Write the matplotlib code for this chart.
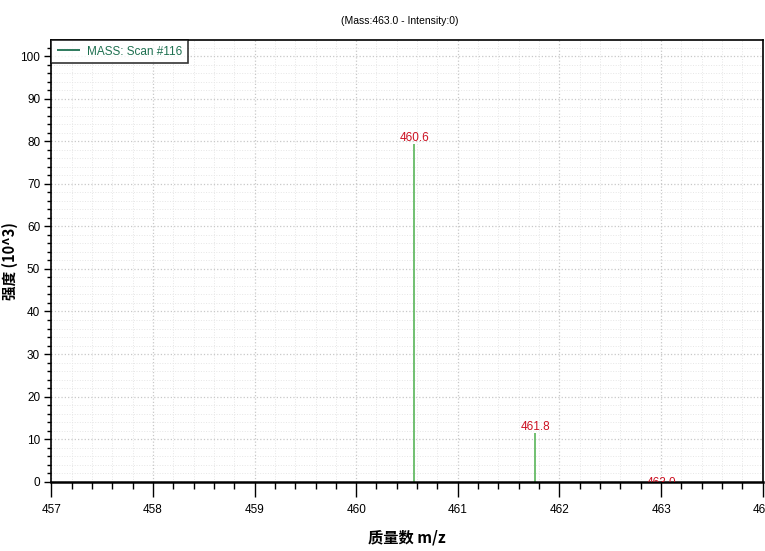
import numpy as np
import matplotlib.pyplot as plt
from matplotlib.ticker import MultipleLocator

# dados do espectro
massas = [460.57, 461.76, 463.0]
intensidades = [79.5, 11.5, 0.0]
rotulos = ['460.6', '461.8', '463.0']
x_ticks = [457, 458, 459, 460, 461, 462, 463, 464]
titulo = '(Mass:463.0 - Intensity:0)'
legenda = 'MASS: Scan #116'

fonte = ['Liberation Sans', 'DejaVu Sans']
fonte_cjk = ['Noto Sans CJK SC', 'DejaVu Sans']

fig = plt.figure(figsize=(7.65, 5.51), dpi=100)
ax = fig.add_axes([0.067, 0.126, 0.93, 0.801])

ax.vlines(massas, 0, intensidades, color='#66bb66', lw=1.3, label=legenda)
for m, h, r in zip(massas, intensidades, rotulos):
    dy = 0 if h > 0 else -5
    ax.annotate(r, (m, h), xytext=(0, dy), textcoords='offset points',
                ha='center', va='bottom', color='#cc1122', fontsize=8.5,
                family=fonte, annotation_clip=False, clip_on=True)

ax.set_xlim(457, 464)
ax.set_ylim(0, 103.8)
ax.set_xticks(x_ticks)
ax.set_xticklabels([str(t) for t in x_ticks], family=fonte, fontsize=8.5)
ax.xaxis.set_minor_locator(MultipleLocator(0.2))
ax.yaxis.set_major_locator(MultipleLocator(10))
ax.yaxis.set_minor_locator(MultipleLocator(2))
for lab in ax.get_yticklabels():
    lab.set_family(fonte)
    lab.set_fontsize(8.5)

ax.tick_params(axis='x', which='major', length=11, width=1, direction='out', pad=5)
ax.tick_params(axis='x', which='minor', length=5, width=1, direction='out')
ax.tick_params(axis='y', which='major', length=5, width=1, direction='out', pad=3)
ax.tick_params(axis='y', which='minor', length=3, width=1, direction='out')

ax.grid(which='major', color='#c8c8c8', ls=':', lw=0.9)
ax.grid(which='minor', color='#e6e6e6', ls=':', lw=0.7)
ax.set_axisbelow(True)
for s in ax.spines.values():
    s.set_linewidth(1.2)
ax.spines['bottom'].set_linewidth(1.8)

ax.set_xlabel('质量数 m/z', family=fonte_cjk, fontsize=11, fontweight='bold', labelpad=10)
ax.set_ylabel('强度 (10^3)', family=fonte_cjk, fontsize=10.5, fontweight='bold')
ax.yaxis.set_label_coords(-0.047, 0.5)
fig.text(0.523, 0.962, titulo, ha='center', va='center', fontsize=7.5, family=fonte)

leg = ax.legend(loc='upper left', borderaxespad=0, frameon=True, fancybox=False,
                prop={'family': fonte, 'size': 8.5}, handlelength=2.0,
                borderpad=0.45, handletextpad=0.6)
leg.get_frame().set_edgecolor('black')
leg.get_frame().set_linewidth(1.2)
for h in leg.legend_handles:
    h.set_color('#1e7050')
for t in leg.get_texts():
    t.set_color('#1e7050')

fig.savefig('out.png', dpi=100)
